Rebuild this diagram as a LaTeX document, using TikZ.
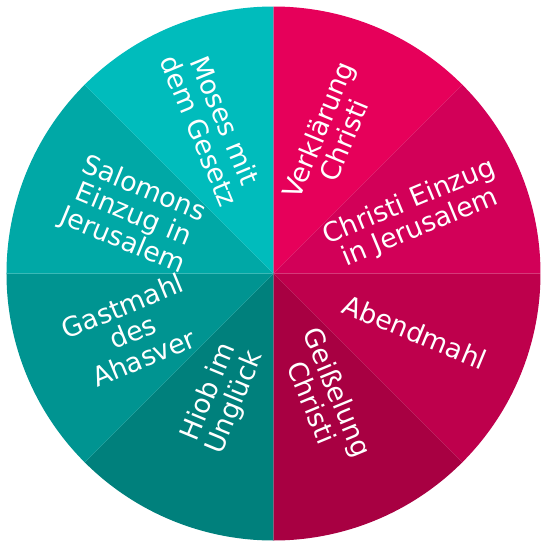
\documentclass[tikz,border=0pt]{standalone}
\usepackage{fontspec}
\setmainfont{DejaVu Sans}
\usetikzlibrary{positioning}
\definecolor{verkl}{RGB}{230,0,90}
\definecolor{einzug}{RGB}{210,0,88}
\definecolor{abend}{RGB}{190,0,76}
\definecolor{geiss}{RGB}{168,0,66}
\definecolor{hiob}{RGB}{0,128,124}
\definecolor{gast}{RGB}{0,148,145}
\definecolor{salomo}{RGB}{0,168,166}
\definecolor{moses}{RGB}{0,188,188}

\begin{document}
\begin{tikzpicture}[x=1pt, y=1pt,
  sectortext/.style={text=white, align=center, inner sep=0pt,
                     font=\fontsize{26.8}{28}\selectfont}]
  \useasboundingbox (-273.5,-273.5) rectangle (273.5,273.5);
  \coordinate (c) at (0,0);
  % Sectors
  \fill[verkl]  (c) -- (90:267)  arc[start angle=90,  end angle=45,   radius=267pt] -- cycle;
  \fill[einzug] (c) -- (45:267)  arc[start angle=45,  end angle=0,    radius=267pt] -- cycle;
  \fill[abend]  (c) -- (0:267)   arc[start angle=0,   end angle=-45,  radius=267pt] -- cycle;
  \fill[geiss]  (c) -- (-45:267) arc[start angle=-45, end angle=-90,  radius=267pt] -- cycle;
  \fill[hiob]   (c) -- (-90:267) arc[start angle=-90, end angle=-135, radius=267pt] -- cycle;
  \fill[gast]   (c) -- (225:267) arc[start angle=225, end angle=180,  radius=267pt] -- cycle;
  \fill[salomo] (c) -- (180:267) arc[start angle=180, end angle=135,  radius=267pt] -- cycle;
  \fill[moses]  (c) -- (135:267) arc[start angle=135, end angle=90,   radius=267pt] -- cycle;
  % Labels
  \node[sectortext, rotate=67.5]  (verklaerung) at (67.5:150)   {Verklärung\\Christi};
  \node[sectortext, rotate=22.5]  (christi)     at (22.5:153)   {Christi Einzug\\in Jerusalem};
  \node[sectortext, rotate=-22.5] (abendmahl)   at (-22.5:153)  {Abendmahl};
  \node[sectortext, rotate=-67.5] (geisselung)  at (-67.5:134)  {Geißelung\\Christi};
  \node[sectortext, rotate=67.5]  (hiobtext)    at (-112.5:134) {Hiob im\\Unglück};
  \node[sectortext, rotate=22.5]  (gastmahl)    at (-157.5:152) {Gastmahl\\des\\Ahasver};
  \node[sectortext, rotate=-22.5] (salomons)    at (157.5:152)  {Salomons\\Einzug in\\Jerusalem};
  \node[sectortext, rotate=-67.5] (mosestext)   at (112.5:160)  {Moses mit\\dem Gesetz};
\end{tikzpicture}
\end{document}
